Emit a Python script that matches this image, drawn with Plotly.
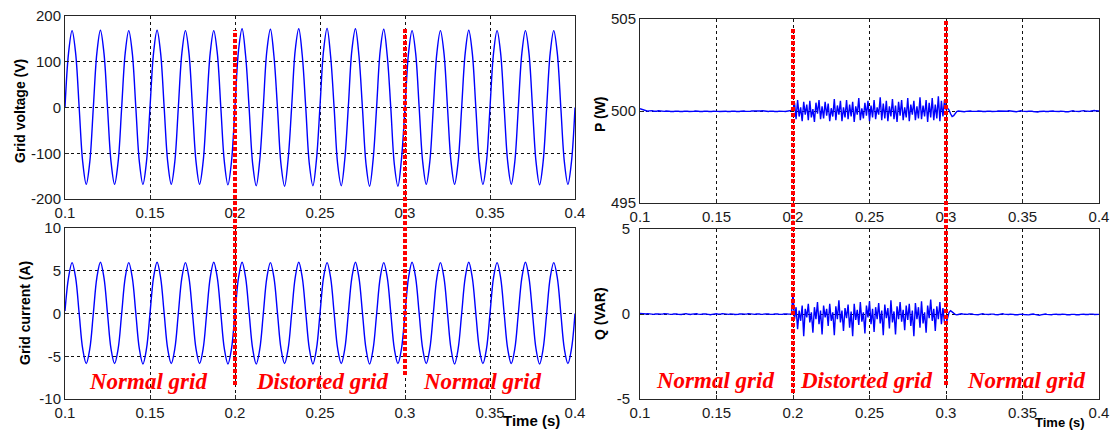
import numpy as np
import plotly.graph_objects as go

# ---------------- data ----------------
x_ticks = [0.1, 0.15, 0.2, 0.25, 0.3, 0.35, 0.4]
x_labels = ["0.1", "0.15", "0.2", "0.25", "0.3", "0.35", "0.4"]
events = [0.2, 0.3]
region_labels = ["Normal grid", "Distorted grid", "Normal grid"]
region_centers_left = [0.149, 0.2512, 0.345]
region_centers_right = [0.149, 0.2477, 0.352]

# voltage / current sampled 8 points per 60 Hz cycle starting at t = 0.1 s
wave_t0 = 0.1
wave_dt = 1.0 / 480.0
grid_voltage = [
    0, 119, 168, 119, 0, -119, -168, -119,
    0, 119, 169, 119, 0, -119, -168, -119,
    0, 119, 168, 119, 0, -119, -168, -119,
    0, 119, 169, 119, 0, -119, -168, -119,
    0, 119, 168, 119, 0, -119, -168, -119,
    0, 119, 168, 119, 0, -119, -169, -119,
    2, 125, 172, 113, -3, -124, -171, -114,
    3, 124, 171, 112, -2, -125, -172, -113,
    2, 125, 172, 113, -3, -124, -171, -114,
    3, 124, 173, 112, -2, -125, -171, -113,
    2, 125, 172, 113, -3, -124, -172, -114,
    3, 124, 171, 112, -2, -125, -172, -113,
    0, 119, 168, 119, 0, -119, -168, -119,
    0, 119, 168, 119, 0, -119, -168, -119,
    0, 119, 169, 119, 0, -119, -168, -119,
    0, 119, 168, 119, 0, -119, -168, -119,
    0, 119, 168, 119, 0, -119, -169, -119,
    0, 119, 168, 119, 0, -119, -168, -119,
    0,
]
grid_current = [
    0.3, 4.2, 5.95, 4.2, 0, -4.15, -5.85, -4.15,
    0, 4.2, 6.0, 4.2, 0, -4.15, -5.85, -4.15,
    0, 4.2, 5.95, 4.2, 0, -4.15, -5.9, -4.15,
    0, 4.2, 6.0, 4.2, 0, -4.15, -5.85, -4.15,
    0, 4.2, 5.95, 4.2, 0, -4.15, -5.85, -4.15,
    0, 4.2, 6.0, 4.2, 0, -4.15, -5.9, -4.15,
    0, 4.2, 6.0, 4.2, 0, -4.15, -5.9, -4.15,
    0, 4.2, 5.95, 4.2, 0, -4.15, -5.85, -4.15,
    0, 4.2, 6.0, 4.2, 0, -4.15, -5.9, -4.15,
    0, 4.2, 5.95, 4.2, 0, -4.15, -5.85, -4.15,
    0, 4.2, 6.0, 4.2, 0, -4.15, -5.9, -4.15,
    0, 4.2, 5.95, 4.2, 0, -4.15, -5.85, -4.15,
    0, 4.2, 6.0, 4.2, 0, -4.15, -5.85, -4.15,
    0, 4.2, 5.95, 4.2, 0, -4.15, -5.9, -4.15,
    0, 4.2, 6.0, 4.2, 0, -4.15, -5.85, -4.15,
    0, 4.2, 5.95, 4.2, 0, -4.15, -5.85, -4.15,
    0, 4.2, 6.0, 4.2, 0, -4.15, -5.9, -4.15,
    0, 4.2, 5.95, 4.2, 0, -4.15, -5.85, -4.15,
    0,
]

# P and Q sampled every 1 ms from t = 0.1 s
pq_t0 = 0.1
pq_dt = 0.001
p_normal_before = [
    500.12, 500.10, 500.06, 500.02, 500.00, 499.99, 500.01, 500.03, 500.02, 499.99,
    499.98, 499.99, 500.01, 500.00, 499.98, 499.97, 499.98, 500.00, 500.01, 499.99,
    499.97, 499.96, 499.97, 499.99, 500.00, 499.99, 499.97, 499.96, 499.97, 499.99,
    500.00, 499.99, 499.97, 499.96, 499.96, 499.98, 500.00, 500.01, 499.99, 499.97,
    499.96, 499.97, 499.99, 500.00, 499.99, 499.97, 499.96, 499.97, 499.99, 500.00,
    499.99, 499.98, 499.97, 499.98, 500.00, 500.01, 499.99, 499.97, 499.96, 499.97,
    499.99, 500.00, 499.99, 499.97, 499.96, 499.97, 499.99, 500.01, 500.00, 499.98,
    499.97, 499.96, 499.98, 500.00, 500.00, 499.98, 499.97, 499.96, 499.98, 500.00,
    500.01, 499.99, 499.97, 499.96, 499.97, 499.99, 500.00, 499.99, 499.97, 499.96,
    499.97, 499.99, 500.00, 499.99, 499.98, 499.97, 499.98, 500.00, 500.02, 500.05,
]
p_distorted = [
    500.05, 500.45, 499.55, 500.60, 499.70, 500.20, 499.45, 500.50, 499.80, 500.35,
    499.50, 500.55, 499.65, 500.10, 499.40, 500.45, 499.85, 500.60, 499.55, 500.25,
    499.60, 500.50, 499.75, 500.40, 499.45, 500.15, 499.70, 500.65, 499.50, 500.30,
    499.80, 500.55, 499.45, 500.20, 499.65, 500.60, 499.55, 500.35, 499.70, 500.50,
    499.40, 500.25, 499.80, 500.70, 499.50, 500.15, 499.60, 500.45, 499.75, 500.55,
    499.45, 500.30, 499.65, 500.60, 499.55, 500.20, 499.80, 500.75, 499.50, 500.40,
    499.60, 500.55, 499.45, 500.25, 499.70, 500.65, 499.55, 500.30, 499.40, 500.50,
    499.75, 500.60, 499.50, 500.20, 499.65, 500.70, 499.45, 500.35, 499.80, 500.55,
    499.50, 500.25, 499.60, 500.75, 499.55, 500.30, 499.70, 500.60, 499.40, 500.45,
    499.65, 500.70, 499.50, 500.35, 499.60, 500.80, 499.45, 500.55, 499.70, 500.60,
]
p_normal_after = [
    500.10, 500.15, 500.05, 499.85, 499.70, 499.75, 499.88, 499.97, 500.00, 499.98,
    499.96, 499.95, 499.96, 499.98, 500.00, 500.01, 500.00, 499.98, 499.97, 499.97,
    499.98, 500.00, 500.01, 499.99, 499.97, 499.96, 499.97, 499.99, 500.00, 499.99,
    499.97, 499.96, 499.96, 499.98, 500.00, 500.00, 499.98, 499.97, 499.96, 499.97,
    499.99, 500.01, 500.00, 499.98, 499.96, 499.95, 499.96, 499.98, 500.00, 500.01,
    499.99, 499.97, 499.96, 499.97, 499.99, 500.00, 499.99, 499.97, 499.95, 499.94,
    499.95, 499.97, 499.99, 500.00, 499.99, 499.97, 499.96, 499.97, 499.99, 500.01,
    500.00, 499.98, 499.97, 499.96, 499.97, 499.99, 500.00, 499.98, 499.96, 499.95,
    499.96, 499.98, 500.00, 500.01, 499.99, 499.97, 499.96, 499.97, 499.99, 500.01,
    500.02, 500.00, 499.98, 499.97, 499.98, 500.00, 500.02, 500.03, 500.01, 500.00,
    500.00,
]
q_normal_before = [
    0.03, 0.02, 0.00, -0.02, 0.00, 0.02, 0.01, -0.01, -0.03, -0.02,
    0.00, 0.02, 0.01, -0.01, -0.02, 0.00, 0.02, 0.03, 0.01, -0.01,
    -0.03, -0.02, 0.00, 0.01, 0.00, -0.02, -0.04, -0.03, -0.01, 0.01,
    0.02, 0.00, -0.02, -0.03, -0.01, 0.01, 0.02, 0.01, -0.01, -0.03,
    -0.02, 0.00, 0.02, 0.01, -0.01, -0.03, -0.04, -0.02, 0.00, 0.02,
    0.01, -0.01, -0.02, 0.00, 0.02, 0.01, -0.01, -0.03, -0.02, 0.00,
    0.01, -0.01, -0.03, -0.04, -0.02, 0.00, 0.02, 0.01, -0.01, -0.02,
    0.00, 0.02, 0.01, -0.01, -0.03, -0.02, 0.00, 0.01, 0.00, -0.02,
    -0.03, -0.01, 0.01, 0.02, 0.00, -0.02, -0.03, -0.02, 0.00, 0.01,
    0.00, -0.02, -0.03, -0.02, 0.00, 0.02, 0.01, -0.01, -0.02, 0.00,
]
q_distorted = [
    1.20, -0.30, 0.40, -0.90, 0.20, -0.40, 0.50, -1.30, 0.30, -0.20,
    0.60, -0.50, 0.10, -1.10, 0.40, -0.30, 0.70, -0.60, 0.20, -1.20,
    0.50, -0.20, 0.30, -0.70, 0.60, -0.40, 0.10, -1.25, 0.45, -0.30,
    0.80, -0.50, 0.20, -1.00, 0.35, -0.25, 0.55, -0.80, 0.15, -1.30,
    0.60, -0.35, 0.25, -0.65, 0.70, -0.45, 0.10, -1.15, 0.50, -0.20,
    0.75, -0.60, 0.30, -1.05, 0.40, -0.30, 0.65, -0.55, 0.20, -1.25,
    0.55, -0.25, 0.35, -0.85, 0.80, -0.50, 0.15, -1.20, 0.45, -0.30,
    0.70, -0.45, 0.25, -0.95, 0.50, -0.35, 0.60, -0.70, 0.20, -1.30,
    0.65, -0.30, 0.40, -0.80, 0.75, -0.55, 0.10, -1.10, 0.50, -0.25,
    0.85, -0.40, 0.30, -1.00, 0.45, -0.30, 0.70, -0.60, 0.35, -0.50,
]
q_normal_after = [
    -0.60, -0.20, 0.10, 0.20, 0.15, 0.05, -0.02, -0.05, -0.03, 0.00,
    0.01, 0.00, -0.02, -0.03, -0.02, 0.00, 0.01, 0.00, -0.02, -0.04,
    -0.05, -0.04, -0.02, 0.00, 0.01, -0.01, -0.03, -0.04, -0.03, -0.01,
    0.00, -0.01, -0.03, -0.05, -0.04, -0.02, 0.00, 0.01, -0.01, -0.03,
    -0.04, -0.03, -0.01, 0.00, -0.02, -0.04, -0.05, -0.04, -0.02, 0.00,
    -0.01, -0.03, -0.05, -0.06, -0.05, -0.03, -0.01, 0.00, -0.02, -0.04,
    -0.06, -0.07, -0.05, -0.03, -0.01, 0.00, -0.02, -0.04, -0.05, -0.04,
    -0.02, 0.00, -0.01, -0.03, -0.04, -0.03, -0.01, 0.00, -0.02, -0.04,
    -0.05, -0.04, -0.02, -0.01, -0.02, -0.04, -0.05, -0.04, -0.02, 0.00,
    -0.01, -0.03, -0.04, -0.03, -0.01, 0.00, -0.01, -0.03, -0.04, -0.03,
    -0.02,
]

grid_p = p_normal_before + p_distorted + p_normal_after
grid_q = q_normal_before + q_distorted + q_normal_after
t_wave = [round(wave_t0 + i * wave_dt, 6) for i in range(len(grid_voltage))]
t_pq = [round(pq_t0 + i * pq_dt, 6) for i in range(len(grid_p))]

# ---------------- styles ----------------
W, H = 1114, 430
BLUE = "#0000ff"
RED = "#ff0000"
FONT = "Liberation Sans, Arial, sans-serif"
SERIF = "Liberation Serif, Times New Roman, serif"

def px_x(p):
    return p / W

def px_y(p):
    return 1 - p / H

dom_left_x = [px_x(65), px_x(575)]
dom_right_x = [px_x(640), px_x(1099)]
dom_tl_y = [px_y(199), px_y(16)]
dom_bl_y = [px_y(399), px_y(228)]
dom_tr_y = [px_y(203), px_y(19)]
dom_br_y = [px_y(399), px_y(229)]

fig = go.Figure()
line_style = dict(color=BLUE, width=1.4)
fig.add_trace(go.Scatter(x=t_wave, y=grid_voltage, mode="lines", line=dict(shape="spline", **line_style), xaxis="x", yaxis="y"))
fig.add_trace(go.Scatter(x=t_wave, y=grid_current, mode="lines", line=dict(shape="spline", **line_style), xaxis="x2", yaxis="y2"))
fig.add_trace(go.Scatter(x=t_pq, y=grid_p, mode="lines", line=line_style, xaxis="x3", yaxis="y3"))
fig.add_trace(go.Scatter(x=t_pq, y=grid_q, mode="lines", line=line_style, xaxis="x4", yaxis="y4"))

axis_common = dict(
    showline=True, linecolor="#262626", linewidth=1, mirror=True,
    showgrid=True, gridcolor="#111111", griddash="3px,3px", gridwidth=1,
    ticks="inside", ticklen=4, tickcolor="#262626",
    tickfont=dict(family=FONT, size=15, color="#1a1a1a"),
    zeroline=False, automargin=False,
)

def xax(domain, anchor):
    return dict(domain=domain, anchor=anchor, range=[0.1, 0.4],
                tickmode="array", tickvals=x_ticks, ticktext=x_labels, **axis_common)

def yax(domain, anchor, rng, tv, standoff=0):
    return dict(domain=domain, anchor=anchor, range=rng, tickmode="array",
                ticklabelstandoff=standoff,
                tickvals=tv, ticktext=[str(v) for v in tv], **axis_common)

fig.update_layout(
    width=W, height=H,
    margin=dict(l=0, r=0, t=0, b=0, autoexpand=False),
    paper_bgcolor="white", plot_bgcolor="white",
    showlegend=False,
    xaxis=xax(dom_left_x, "y"),
    yaxis=yax(dom_tl_y, "x", [-200, 200], [-200, -100, 0, 100, 200]),
    xaxis2=xax(dom_left_x, "y2"),
    yaxis2=yax(dom_bl_y, "x2", [-10, 10], [-10, -5, 0, 5, 10]),
    xaxis3=xax(dom_right_x, "y3"),
    yaxis3=yax(dom_tr_y, "x3", [495, 505], [495, 500, 505]),
    xaxis4=xax(dom_right_x, "y4"),
    yaxis4=yax(dom_br_y, "x4", [-5, 5], [-5, 0, 5], standoff=6),
)

# red event markers spanning both stacked panels
red_spans = {
    ("x", 0): (px_y(385), px_y(30)),
    ("x", 1): (px_y(375), px_y(27)),
    ("x3", 0): (px_y(393), px_y(27)),
    ("x3", 1): (px_y(385), px_y(20)),
}
shapes = []
for (xr, k), (y0, y1) in red_spans.items():
    shapes.append(dict(type="line", xref=xr, yref="paper", x0=events[k], x1=events[k],
                       y0=y0, y1=y1, layer="above",
                       line=dict(color=RED, width=4, dash="4px,2px")))
fig.update_layout(shapes=shapes)

ann = []
# y-axis titles
for text, xp, yp in [("Grid voltage (V)", 20, 111), ("Grid current (A)", 25, 313),
                     ("P (W)", 600, 114), ("Q (VAR)", 600, 314)]:
    ann.append(dict(text=text, xref="paper", yref="paper", x=px_x(xp), y=px_y(yp),
                    textangle=-90, showarrow=False, xanchor="center", yanchor="middle",
                    font=dict(family=FONT, size=14, color="black", weight="bold")))
# Time labels
for xp, yp, fs in [(562, 420, 15), (1087, 422, 13)]:
    ann.append(dict(text="Time (s)", xref="paper", yref="paper", x=px_x(xp), y=px_y(yp),
                    showarrow=False, xanchor="right", yanchor="middle",
                    font=dict(family=FONT, size=fs, color="black", weight="bold")))
# region labels
for lab, xc in zip(region_labels, region_centers_left):
    ann.append(dict(text=f"<b><i>{lab}</i></b>", xref="x2", yref="y2", x=xc, y=-8.0,
                    showarrow=False, xanchor="center", yanchor="middle",
                    font=dict(family=SERIF, size=23, color=RED)))
for lab, xc in zip(region_labels, region_centers_right):
    ann.append(dict(text=f"<b><i>{lab}</i></b>", xref="x4", yref="y4", x=xc, y=-3.94,
                    showarrow=False, xanchor="center", yanchor="middle",
                    font=dict(family=SERIF, size=23, color=RED)))
fig.update_layout(annotations=ann)

fig.write_html("out.html")
